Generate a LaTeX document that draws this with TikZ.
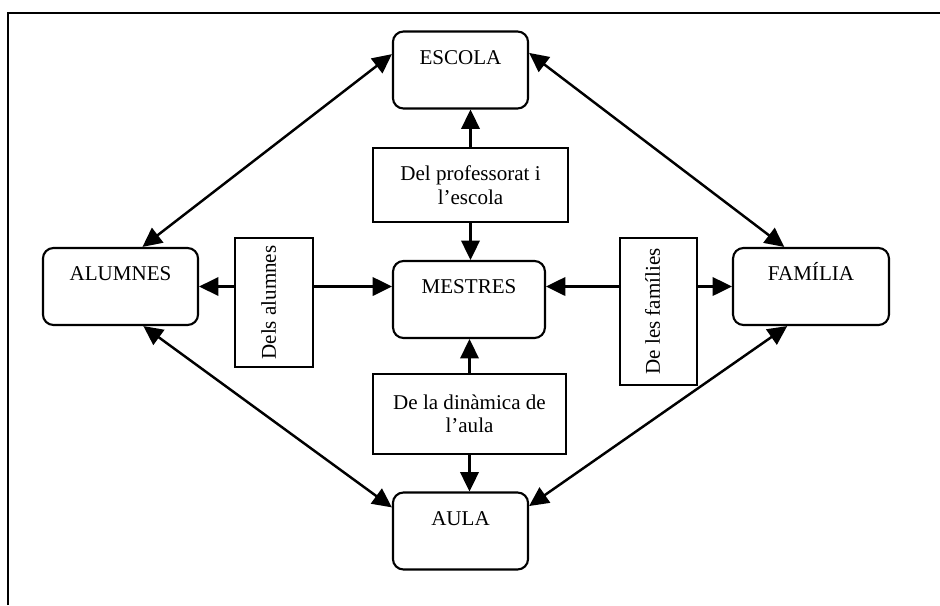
\documentclass[tikz,border=0pt]{standalone}
\usepackage{fontspec}
\setmainfont{Liberation Serif}
\usepackage{tikz}
\usetikzlibrary{arrows.meta,positioning}

\begin{document}
\begin{tikzpicture}[x=0.57pt, y=-0.57pt, font=\fontsize{12}{13.4}\selectfont]
    % Define styles
    \tikzstyle{entity} = [rectangle, draw, line width=1.2pt, rounded corners=6pt, inner sep=0pt, minimum height=43.9pt, text height=18.8pt, text depth=25.1pt]
    \tikzstyle{factor} = [rectangle, draw, line width=1.2pt, inner sep=2pt, align=center]
    \tikzstyle{sidefactor} = [rectangle, draw, line width=1.2pt, inner sep=0pt, rotate=90, text height=23.2pt, text depth=21.1pt]
    \tikzstyle{arrow} = [line width=1.3pt, -{Triangle[length=11pt, width=10.5pt]}]
    \tikzstyle{biarrow} = [line width=1.4pt, {Triangle[length=11pt, width=10.5pt]}-{Triangle[length=11pt, width=10.5pt]}]

    \useasboundingbox (0,0) rectangle (940,605);

    % Frame
    \draw [line width=1.4pt] (8,605) -- (8,13) -- (940,13);

    % Main boxes
    \node [entity, minimum width=77pt] (escola) at (460.5,70) {ESCOLA};
    \node [entity, minimum width=86.6pt, minimum height=42.7pt] (mestres) at (469,299.5) {MESTRES};
    \node [entity, minimum width=77pt] (aula) at (460.5,531) {AULA};
    \node [entity, minimum width=88.4pt] (alumnes) at (120.5,286.5) {ALUMNES};
    \node [entity, minimum width=88.9pt] (familia) at (811,286.5) {FAMÍLIA};

    % Factor boxes
    \node [factor, minimum width=111.2pt, minimum height=42.2pt] (professorat) at (470.5,185) {Del professorat i\\l’escola};
    \node [factor, minimum width=110pt, minimum height=45.6pt] (dinamica) at (469.5,414) {De la dinàmica de\\l’aula};
    \node [sidefactor, minimum width=73.5pt] (alumnat) at (274,302.5) {Dels alumnes};
    \node [sidefactor, minimum width=83.8pt, text height=22.8pt] (families) at (658.5,311.5) {De les famílies};

    % Arrows from the factors
    \draw [arrow] (professorat.north) -- (professorat.north |- escola.south);
    \draw [arrow] (professorat.south) -- (professorat.south |- mestres.north);
    \draw [arrow] (dinamica.north) -- (dinamica.north |- mestres.south);
    \draw [arrow] (dinamica.south) -- (dinamica.south |- aula.north);
    \draw [arrow] (alumnes.east -| alumnat.north) -- (alumnes.east);
    \draw [arrow] (alumnes.east -| alumnat.south) -- (alumnes.east -| mestres.west);
    \draw [arrow] (familia.west -| families.south) -- (familia.west);
    \draw [arrow] (familia.west -| families.north) -- (familia.west -| mestres.east);

    % Relations around the outside
    \draw [biarrow] (alumnes.61) -- (escola.167);
    \draw [biarrow] (escola.14) -- (familia.124);
    \draw [biarrow] (alumnes.-60) -- (aula.161);
    \draw [biarrow] (aula.20) -- (familia.-121);
\end{tikzpicture}
\end{document}
